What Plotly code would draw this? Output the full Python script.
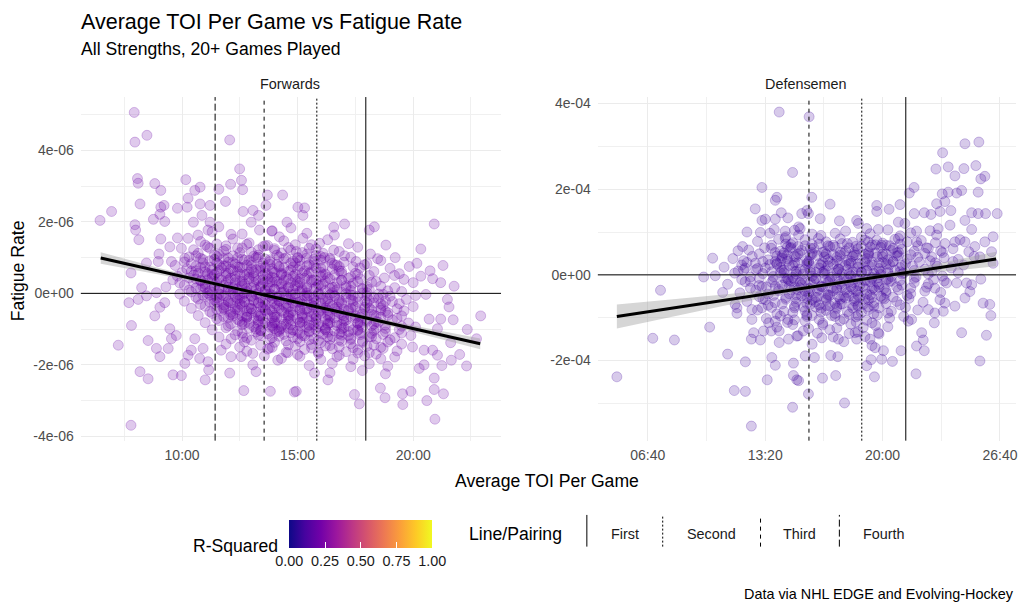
import plotly.graph_objects as go
from plotly.colors import sample_colorscale, unlabel_rgb

# ---------------- data (TOI in minutes, fatigue rate) ----------------
# Forwards: (avg TOI minutes, fatigue rate x 1e-6)
fwd_points = [
    (7.93,5.06),(8.48,4.42),(7.96,4.23),(12.06,4.29),(12.49,3.48),(8.07,3.21),(8.10,3.08),(10.16,3.18),(8.82,3.07),(9.08,2.88),
    (10.78,2.97),(10.55,2.88),(11.59,2.91),(12.10,3.05),(12.57,3.16),(12.62,2.90),(13.69,2.75),(14.35,2.75),(8.18,2.50),(10.26,2.66),
    (10.22,2.41),(9.80,2.38),(9.08,2.41),(9.22,2.46),(10.78,2.50),(11.21,2.46),(11.88,2.57),(13.63,2.46),(12.64,2.29),(13.07,2.32),
    (6.45,2.04),(6.95,2.29),(7.96,1.92),(7.99,1.77),(8.13,1.50),(8.76,2.07),(9.04,2.21),(9.25,2.01),(9.08,1.52),(10.49,1.99),
    (10.86,2.18),(11.21,1.99),(11.12,1.77),(11.59,1.86),(12.12,1.65),(12.99,1.99),(13.31,2.18),(13.35,1.77),(13.88,1.74),(14.21,1.58),
    (14.54,1.99),(14.71,1.83),(9.00,1.10),(8.97,0.89),(8.46,0.85),(9.80,1.55),(9.97,1.26),(9.47,1.30),(10.26,1.54),(10.69,1.63),
    (10.12,0.98),(9.54,0.89),
    (15.01,2.41),(15.30,2.39),(15.23,2.18),(16.56,1.85),(17.03,1.94),(16.59,1.63),(16.56,1.21),(15.95,1.40),(15.23,1.54),(18.10,1.77),
    (18.32,1.86),(18.82,1.35),(18.15,1.10),(18.46,0.97),(19.22,1.00),(20.33,1.24),(20.91,1.94),(21.29,0.78),(19.83,0.75),(20.16,0.84),
    (20.73,0.63),(17.03,1.05),(17.53,0.89),(17.89,0.80),(16.59,0.80),(16.16,1.00),(15.73,0.89),(14.94,1.17),(15.37,0.98),
    (7.79,0.57),(7.70,-0.26),(8.10,-0.17),(8.25,0.16),(8.46,-0.07),(8.89,0.02),(9.25,-0.26),(9.04,-0.39),(8.82,-0.63),(7.81,-0.90),
    (7.24,-1.45),(8.53,-1.32),(8.89,-1.54),(9.04,-1.77),(9.40,-1.54),(9.54,-1.27),(9.75,-1.18),(9.47,-0.99),(8.18,-2.19),(8.53,-2.39),
    (9.61,-2.28),(9.97,-2.30),(7.79,-3.69),(10.12,-1.96),(10.26,-1.73),(10.55,-1.27),(10.91,-1.54),(10.76,-1.82),(11.12,-1.91),(11.15,-2.14),
    (11.00,-2.42),(10.40,-1.59),(11.69,-1.59),(12.12,-1.77),(12.56,-1.77),(12.06,-2.23),(12.67,-2.72),(13.06,-2.00),(13.20,-2.19),(13.56,-1.75),
    (13.82,-2.74),(13.78,-1.53),(14.14,-1.87),(14.57,-1.66),(14.86,-2.76),(12.12,-1.27),(12.49,-1.50),(12.63,-1.22),(13.06,-1.68),(13.42,-1.18),
    (13.92,-0.95),(14.28,-0.99),
    (21.77,0.20),(22.92,-0.63),(22.34,-1.01),(22.74,-1.27),(21.55,-0.38),(21.73,-0.74),(21.19,-0.72),(21.05,-0.99),(21.62,-1.38),(22.01,-1.71),
    (22.31,-2.03),(21.65,-1.87),(21.24,-2.02),(21.31,-2.81),(20.94,-3.52),(20.59,-3.00),(20.91,-2.69),(20.91,-2.37),(21.05,-1.73),(20.84,-1.59),
    (20.47,-1.59),(20.26,-2.10),(19.90,-2.74),(19.55,-3.11),(19.54,-2.81),(18.78,-2.92),(18.58,-2.65),(17.67,-3.09),(17.46,-2.83),(16.31,-2.42),
    (15.73,-2.23),(14.94,-2.74),(20.55,-0.03),(21.19,0.30),(20.33,0.48),(19.19,0.50),(18.75,0.43),(20.84,0.41),(21.48,-0.17),(20.69,-0.72),
    (19.97,-1.50),(20.47,-2.00),
]

fwd_points_core = [
    (10.8,1.45),(11.5,1.38),(12.2,1.52),(12.9,1.41),(13.6,1.33),(14.4,1.47),(15.6,1.36),(16.3,1.50),(17.2,1.39),
    (10.5,1.22),(11.1,1.30),(11.8,1.18),(12.4,1.27),(13.0,1.15),(13.5,1.31),(14.0,1.20),(14.6,1.28),(15.2,1.14),(15.8,1.24),(16.8,1.17),(17.6,1.29),
    (10.3,1.02),(10.9,0.95),(11.4,1.08),(11.8,0.97),(12.2,1.05),(12.7,0.93),(13.1,1.04),(13.6,0.96),(14.1,1.07),(14.5,0.99),(15.1,0.92),(15.8,1.06),(16.4,0.94),(17.3,1.01),(18.6,0.92),
    (9.7,0.78),(10.4,0.83),(11.0,0.74),(11.5,0.85),(11.9,0.77),(12.3,0.82),(12.6,0.72),(13.0,0.86),(13.4,0.75),(13.8,0.81),(14.2,0.73),(14.7,0.84),(15.1,0.76),(15.5,0.80),(16.0,0.71),(16.7,0.79),(17.4,0.74),(18.0,0.83),(19.0,0.70),
    (10.0,0.58),(10.6,0.63),(11.1,0.55),(11.6,0.64),(12.0,0.57),(12.4,0.61),(12.8,0.53),(13.2,0.66),(13.6,0.56),(13.9,0.62),(14.3,0.54),(14.7,0.65),(15.2,0.57),(15.6,0.60),(16.1,0.52),(16.8,0.63),(17.5,0.56),(18.3,0.61),(19.4,0.55),
    (9.6,0.38),(10.3,0.43),(10.8,0.35),(11.3,0.44),(11.7,0.37),(12.1,0.42),(12.5,0.33),(12.9,0.45),(13.3,0.36),(13.7,0.41),(14.1,0.34),(14.5,0.46),(14.9,0.38),(15.3,0.42),(15.8,0.35),(16.3,0.44),(16.9,0.37),(17.7,0.41),(18.4,0.33),(19.6,0.39),(20.0,0.30),
    (9.3,0.18),(10.1,0.23),(10.6,0.15),(11.0,0.24),(11.4,0.17),(11.8,0.22),(12.2,0.13),(12.6,0.25),(13.0,0.16),(13.4,0.21),(13.8,0.14),(14.2,0.26),(14.6,0.18),(15.0,0.22),(15.4,0.15),(15.9,0.24),(16.5,0.17),(17.1,0.21),(17.8,0.13),(18.6,0.20),(19.2,0.16),
    (9.9,-0.02),(10.4,0.04),(10.9,-0.05),(11.3,0.03),(11.7,-0.04),(12.1,0.05),(12.5,-0.06),(12.8,0.02),(13.2,-0.03),(13.6,0.06),(13.9,-0.05),(14.3,0.03),(14.7,-0.02),(15.1,0.05),(15.5,-0.06),(15.9,0.01),(16.4,-0.04),(16.9,0.04),(17.4,-0.05),(18.0,0.02),(18.7,-0.03),(19.5,0.05),(20.1,-0.06),
    (10.1,-0.22),(10.7,-0.16),(11.2,-0.25),(11.6,-0.17),(12.0,-0.24),(12.4,-0.15),(12.7,-0.23),(13.1,-0.18),(13.5,-0.26),(13.9,-0.14),(14.2,-0.21),(14.6,-0.17),(15.0,-0.25),(15.4,-0.16),(15.8,-0.22),(16.3,-0.15),(16.8,-0.24),(17.3,-0.18),(17.9,-0.21),(18.5,-0.14),(19.1,-0.23),(19.7,-0.17),
    (10.4,-0.42),(11.0,-0.36),(11.5,-0.45),(11.9,-0.37),(12.3,-0.44),(12.6,-0.35),(13.0,-0.43),(13.4,-0.38),(13.8,-0.46),(14.1,-0.34),(14.5,-0.41),(14.9,-0.37),(15.3,-0.45),(15.7,-0.36),(16.1,-0.42),(16.5,-0.35),(17.0,-0.44),(17.5,-0.38),(18.1,-0.41),(18.7,-0.34),(19.3,-0.43),(20.0,-0.37),
    (10.7,-0.62),(11.3,-0.56),(11.8,-0.65),(12.2,-0.57),(12.6,-0.64),(13.0,-0.55),(13.3,-0.63),(13.7,-0.58),(14.1,-0.66),(14.4,-0.54),(14.8,-0.61),(15.2,-0.57),(15.6,-0.65),(16.0,-0.56),(16.4,-0.62),(16.8,-0.55),(17.3,-0.64),(17.8,-0.58),(18.3,-0.61),(18.9,-0.54),(19.5,-0.63),
    (11.0,-0.82),(11.6,-0.76),(12.1,-0.85),(12.5,-0.77),(12.9,-0.84),(13.3,-0.75),(13.6,-0.83),(14.0,-0.78),(14.4,-0.86),(14.7,-0.74),(15.1,-0.81),(15.5,-0.77),(15.9,-0.85),(16.3,-0.76),(16.7,-0.82),(17.1,-0.75),(17.6,-0.84),(18.0,-0.78),(18.5,-0.81),(19.1,-0.74),(19.8,-0.83),
    (11.3,-1.02),(11.9,-0.96),(12.4,-1.05),(12.9,-0.97),(13.4,-1.04),(13.8,-0.95),(14.2,-1.03),(14.6,-0.98),(15.0,-1.06),(15.4,-0.94),(15.8,-1.01),(16.2,-0.97),(16.6,-1.05),(17.0,-0.96),(17.4,-1.02),(17.8,-0.95),(18.3,-1.04),(18.8,-0.98),(19.4,-1.01),(20.1,-0.94),
    (11.6,-1.22),(12.3,-1.16),(12.8,-1.25),(13.3,-1.17),(13.9,-1.24),(14.4,-1.15),(14.8,-1.23),(15.2,-1.18),(15.7,-1.26),(16.1,-1.14),(16.5,-1.21),(16.9,-1.17),(17.3,-1.25),(17.7,-1.16),(18.2,-1.22),(18.7,-1.15),(19.2,-1.24),(19.9,-1.18),
    (11.9,-1.42),(12.7,-1.36),(13.4,-1.45),(14.0,-1.37),(14.6,-1.44),(15.1,-1.35),(15.6,-1.43),(16.0,-1.38),(16.4,-1.46),(16.9,-1.34),(17.3,-1.41),(17.8,-1.37),(18.3,-1.45),(18.9,-1.36),(19.5,-1.42),
    (12.8,-1.62),(13.7,-1.56),(14.5,-1.65),(15.3,-1.57),(15.9,-1.64),(16.5,-1.55),(17.1,-1.63),(17.6,-1.58),(18.1,-1.66),(18.7,-1.54),(19.3,-1.61),
    (14.3,-1.82),(15.1,-1.76),(16.0,-1.85),(16.7,-1.77),(17.4,-1.84),(17.9,-1.75),(18.6,-1.83),(19.2,-1.78),
    (15.5,-2.02),(16.5,-1.96),(17.3,-2.05),(18.1,-1.97),(18.9,-2.04),
    (16.4,-2.22),(17.8,-2.16),(18.8,-2.25),
]

fwd_points_dense = [
    (11.3,1.72),(12.6,1.66),(13.9,1.75),(15.4,1.68),
    (10.7,1.12),(11.6,1.09),(12.5,1.14),(13.3,1.07),(14.3,1.13),(15.4,1.10),(16.1,1.12),
    (10.1,0.88),(11.2,0.91),(12.0,0.87),(12.9,0.92),(13.8,0.89),(14.8,0.90),(16.0,0.93),(17.0,0.87),
    (10.2,0.69),(10.8,0.72),(11.3,0.66),(11.7,0.71),(12.1,0.68),(12.5,0.73),(13.0,0.67),(13.4,0.70),(13.9,0.69),(14.4,0.72),(15.0,0.66),(15.8,0.70),(16.5,0.68),(17.7,0.71),
    (9.8,0.48),(10.5,0.51),(11.0,0.46),(11.4,0.52),(11.9,0.49),(12.3,0.47),(12.7,0.52),(13.1,0.48),(13.5,0.50),(13.9,0.45),(14.3,0.51),(14.8,0.48),(15.4,0.49),(16.0,0.47),(16.6,0.51),(17.3,0.46),(18.1,0.50),
    (9.9,0.29),(10.5,0.31),(11.0,0.27),(11.5,0.32),(11.9,0.28),(12.3,0.30),(12.7,0.26),(13.1,0.31),(13.5,0.28),(13.9,0.32),(14.3,0.27),(14.7,0.30),(15.1,0.29),(15.6,0.31),(16.1,0.26),(16.7,0.30),(17.4,0.28),(18.2,0.31),
    (10.3,0.09),(10.8,0.12),(11.2,0.07),(11.6,0.11),(12.0,0.08),(12.4,0.12),(12.8,0.06),(13.2,0.10),(13.6,0.09),(14.0,0.12),(14.4,0.07),(14.8,0.10),(15.2,0.08),(15.7,0.11),(16.2,0.07),(16.7,0.10),(17.3,0.08),(18.1,0.11),(18.9,0.07),
    (10.6,-0.11),(11.1,-0.08),(11.5,-0.12),(11.9,-0.07),(12.3,-0.10),(12.6,-0.13),(13.0,-0.09),(13.4,-0.12),(13.8,-0.08),(14.1,-0.11),(14.5,-0.09),(14.9,-0.12),(15.3,-0.07),(15.7,-0.10),(16.1,-0.13),(16.6,-0.08),(17.1,-0.11),(17.6,-0.09),(18.3,-0.12),(19.0,-0.08),
    (10.8,-0.31),(11.4,-0.28),(11.8,-0.33),(12.2,-0.27),(12.5,-0.30),(12.9,-0.32),(13.3,-0.28),(13.6,-0.31),(14.0,-0.29),(14.4,-0.33),(14.8,-0.27),(15.2,-0.30),(15.6,-0.32),(16.0,-0.28),(16.4,-0.31),(16.9,-0.29),(17.4,-0.33),(18.0,-0.27),(18.6,-0.30),(19.4,-0.29),
    (11.2,-0.51),(11.7,-0.48),(12.1,-0.53),(12.5,-0.47),(12.8,-0.50),(13.2,-0.52),(13.6,-0.48),(13.9,-0.51),(14.3,-0.49),(14.7,-0.53),(15.1,-0.47),(15.5,-0.50),(15.9,-0.52),(16.3,-0.48),(16.7,-0.51),(17.2,-0.49),(17.7,-0.53),(18.2,-0.47),(18.8,-0.50),(19.6,-0.49),
    (11.5,-0.71),(12.0,-0.68),(12.4,-0.73),(12.8,-0.67),(13.1,-0.70),(13.5,-0.72),(13.9,-0.68),(14.3,-0.71),(14.6,-0.69),(15.0,-0.73),(15.4,-0.67),(15.8,-0.70),(16.2,-0.72),(16.6,-0.68),(17.0,-0.71),(17.5,-0.69),(18.0,-0.73),(18.6,-0.67),(19.3,-0.70),
    (12.0,-0.91),(12.6,-0.88),(13.1,-0.93),(13.5,-0.87),(13.9,-0.90),(14.3,-0.92),(14.7,-0.88),(15.1,-0.91),(15.5,-0.89),(15.9,-0.93),(16.3,-0.87),(16.7,-0.90),(17.2,-0.92),(17.7,-0.88),(18.2,-0.91),(18.8,-0.89),(19.5,-0.92),
    (12.6,-1.11),(13.2,-1.08),(13.7,-1.13),(14.2,-1.07),(14.7,-1.10),(15.1,-1.12),(15.5,-1.08),(15.9,-1.11),(16.3,-1.09),(16.8,-1.13),(17.2,-1.07),(17.7,-1.10),(18.2,-1.12),(18.8,-1.08),(19.5,-1.11),
    (13.0,-1.31),(13.8,-1.28),(14.5,-1.33),(15.0,-1.27),(15.5,-1.30),(15.9,-1.32),(16.4,-1.28),(16.8,-1.31),(17.3,-1.29),(17.8,-1.33),(18.4,-1.27),(19.0,-1.30),
    (13.9,-1.51),(14.9,-1.48),(15.6,-1.53),(16.2,-1.47),(16.8,-1.50),(17.4,-1.52),(18.0,-1.48),(18.6,-1.51),
    (15.0,-1.71),(15.9,-1.68),(16.8,-1.73),(17.6,-1.67),(18.4,-1.70),
]

fwd_points_darkest = [
    (11.0,1.35),(11.9,1.33),(12.8,1.37),(13.7,1.34),(14.9,1.36),
    (10.6,1.05),(11.5,1.03),(12.4,0.99),(13.3,1.01),(14.2,1.02),(15.0,1.00),(16.0,1.03),
    (10.9,0.85),(11.6,0.80),(12.2,0.86),(12.8,0.79),(13.5,0.84),(14.1,0.81),(14.9,0.85),(15.7,0.78),(16.5,0.84),
    (10.4,0.62),(11.0,0.60),(11.5,0.58),(12.2,0.63),(12.9,0.59),(13.4,0.64),(14.0,0.58),(14.6,0.61),(15.3,0.63),(16.0,0.59),(16.9,0.62),
    (10.6,0.40),(11.1,0.38),(11.6,0.42),(12.3,0.39),(12.9,0.41),(13.5,0.38),(14.0,0.42),(14.6,0.39),(15.1,0.41),(15.7,0.38),(16.4,0.40),(17.2,0.42),
    (10.9,0.19),(11.4,0.22),(12.0,0.18),(12.6,0.21),(13.1,0.19),(13.7,0.22),(14.3,0.18),(14.9,0.21),(15.4,0.19),(16.0,0.22),(16.6,0.18),(17.3,0.20),(18.0,0.19),
    (11.1,0.01),(11.6,-0.02),(12.2,0.02),(12.7,-0.01),(13.3,0.01),(13.8,-0.02),(14.4,0.02),(14.9,-0.01),(15.4,0.01),(15.9,-0.02),(16.5,0.02),(17.1,-0.01),(17.8,0.01),(18.5,-0.02),
    (11.4,-0.19),(12.0,-0.22),(12.5,-0.18),(13.1,-0.21),(13.6,-0.19),(14.2,-0.22),(14.7,-0.18),(15.2,-0.21),(15.7,-0.19),(16.2,-0.22),(16.8,-0.18),(17.4,-0.21),(18.1,-0.19),(18.8,-0.22),
    (11.8,-0.40),(12.4,-0.38),(12.9,-0.42),(13.5,-0.39),(14.0,-0.41),(14.6,-0.38),(15.1,-0.42),(15.6,-0.39),(16.2,-0.41),(16.7,-0.38),(17.3,-0.42),(17.9,-0.39),(18.6,-0.41),
    (12.1,-0.60),(12.8,-0.62),(13.4,-0.58),(14.0,-0.61),(14.6,-0.59),(15.2,-0.62),(15.7,-0.58),(16.3,-0.61),(16.9,-0.59),(17.5,-0.62),(18.2,-0.58),(18.9,-0.61),
    (12.6,-0.80),(13.3,-0.79),(14.0,-0.82),(14.6,-0.78),(15.2,-0.81),(15.8,-0.79),(16.4,-0.82),(17.0,-0.78),(17.7,-0.81),(18.4,-0.79),
    (13.2,-1.00),(14.0,-0.99),(14.8,-1.02),(15.5,-0.98),(16.2,-1.01),(16.9,-0.99),(17.6,-1.02),(18.4,-0.98),
    (14.2,-1.20),(15.3,-1.19),(16.3,-1.22),(17.2,-1.18),(18.1,-1.21),
]

fwd_points_peak = [
    (11.2,1.26),(11.9,1.23),(12.6,1.27),(13.3,1.22),(14.0,1.25),(14.7,1.21),(15.5,1.26),
    (10.8,0.98),(11.4,0.95),(12.0,0.99),(12.6,0.96),(13.2,1.00),(13.8,0.94),(14.4,0.97),(15.0,0.99),(15.7,0.95),(16.4,0.98),
    (10.6,0.76),(11.2,0.73),(11.8,0.77),(12.4,0.74),(13.0,0.78),(13.6,0.72),(14.2,0.76),(14.8,0.74),(15.4,0.77),(16.1,0.73),(16.8,0.75),
    (10.7,0.56),(11.3,0.53),(11.9,0.57),(12.5,0.54),(13.1,0.58),(13.7,0.52),(14.3,0.56),(14.9,0.53),(15.5,0.57),(16.2,0.54),(16.9,0.56),(17.6,0.53),
    (10.8,0.36),(11.4,0.33),(12.0,0.37),(12.6,0.34),(13.2,0.38),(13.8,0.32),(14.4,0.36),(15.0,0.33),(15.6,0.37),(16.2,0.34),(16.9,0.36),(17.6,0.33),
    (11.0,0.16),(11.6,0.13),(12.2,0.17),(12.8,0.14),(13.4,0.18),(14.0,0.12),(14.6,0.16),(15.2,0.13),(15.8,0.17),(16.4,0.14),(17.1,0.16),(17.8,0.13),
    (11.2,-0.04),(11.8,-0.07),(12.4,-0.03),(13.0,-0.06),(13.6,-0.02),(14.2,-0.08),(14.8,-0.04),(15.4,-0.07),(16.0,-0.03),(16.6,-0.06),(17.3,-0.04),(18.0,-0.07),
    (11.5,-0.24),(12.1,-0.27),(12.7,-0.23),(13.3,-0.26),(13.9,-0.22),(14.5,-0.28),(15.1,-0.24),(15.7,-0.27),(16.3,-0.23),(16.9,-0.26),(17.6,-0.24),(18.3,-0.27),
    (11.8,-0.44),(12.4,-0.47),(13.0,-0.43),(13.6,-0.46),(14.2,-0.42),(14.8,-0.48),(15.4,-0.44),(16.0,-0.47),(16.6,-0.43),(17.2,-0.46),(17.9,-0.44),(18.6,-0.47),
    (12.2,-0.64),(12.8,-0.67),(13.4,-0.63),(14.0,-0.66),(14.6,-0.62),(15.2,-0.68),(15.8,-0.64),(16.4,-0.67),(17.0,-0.63),(17.7,-0.66),(18.4,-0.64),
    (12.7,-0.84),(13.3,-0.87),(13.9,-0.83),(14.5,-0.86),(15.1,-0.82),(15.7,-0.88),(16.3,-0.84),(16.9,-0.87),(17.6,-0.83),(18.3,-0.86),
    (13.4,-1.04),(14.1,-1.07),(14.8,-1.03),(15.5,-1.06),(16.2,-1.02),(16.9,-1.08),(17.6,-1.04),
]

# Defensemen: (avg TOI minutes, fatigue rate x 1e-4)
def_points = [
    (14.13,3.80),(14.89,2.39),(13.15,2.04),(14.00,1.81),(13.91,1.74),(12.77,1.54),(13.15,1.27),(13.34,1.30),(13.91,1.30),(14.25,1.45),
    (14.62,1.33),(15.41,1.43),(12.30,1.00),(13.06,0.99),(13.85,1.06),(14.47,1.02),(15.23,1.12),(15.23,0.93),(12.05,0.66),(11.79,0.56),
    (10.35,0.39),(12.11,0.33),(12.77,0.27),(13.68,0.62),(14.47,0.85),(14.76,0.62),(12.21,0.16),(13.34,0.16),(14.28,0.39),(13.91,0.31),
    (15.83,3.69),(15.98,1.81),(15.70,1.50),(15.79,1.43),(17.02,1.65),(16.46,1.31),(17.55,1.26),(15.32,1.08),(17.31,0.97),(16.36,0.85),
    (18.53,1.27),(19.67,1.62),(19.67,1.48),(20.37,1.53),(20.99,1.64),(18.63,1.20),(19.10,1.08),(19.76,1.06),(20.90,1.23),(21.52,1.91),
    (21.79,2.04),(21.80,1.43),(22.37,1.45),(22.75,1.41),(21.93,1.02),(21.27,1.20),(23.41,2.85),(23.03,2.47),(23.73,2.52),(24.11,2.31),
    (24.68,3.06),(25.47,3.10),(24.62,2.48),(25.30,2.55),(25.81,2.30),(25.58,2.24),(23.39,1.89),(23.73,1.93),(24.21,1.91),(24.49,1.97),
    (25.43,1.93),(23.54,1.71),(23.07,1.66),(23.26,1.48),(23.88,1.50),(25.06,1.45),(25.43,1.43),(25.85,1.43),(26.51,1.43),(24.68,1.27),
    (25.06,1.06),(23.83,1.16),(23.16,1.08),(23.07,0.93),(23.54,0.73),(24.11,0.77),(24.68,0.77),(25.24,0.66),(25.81,0.77),(26.28,0.89),
    (26.19,0.54),(25.53,0.42),(26.28,0.27),(21.93,0.77),(22.60,0.62),(22.79,0.42),(20.90,0.85),(19.95,0.69),(19.19,0.77),(19.67,0.81),
    (9.84,-0.05),(7.39,-0.36),(4.91,-2.38),(6.95,-1.48),(8.18,-1.52),(10.18,-1.22),(10.92,-0.41),(11.20,-1.85),(12.21,-2.03),(11.58,-2.70),
    (12.21,-2.72),(12.55,-3.53),(13.45,-2.45),(13.71,-1.93),(13.91,-2.11),(14.89,-3.09),(14.94,-2.06),(14.94,-2.35),(15.13,-2.45),(11.73,-0.90),
    (12.58,-1.04),(12.68,-1.35),(12.55,-1.50),(13.06,-1.52),(13.24,-1.31),(13.68,-1.31),(14.13,-1.58),(14.66,-1.50),(14.13,-1.31),(13.53,-1.12),
    (13.91,-1.08),(14.62,-1.04),(15.13,-1.43),(11.63,-0.69),(11.73,-0.77),(12.58,-0.81),(13.15,-0.77),(12.49,-0.15),(12.11,0.12),(13.15,-0.27),
    (13.34,-0.58),(13.91,-0.27),(14.66,-0.12),
    (25.58,-0.10),(25.71,-0.66),(26.09,-0.69),(26.15,-0.95),(24.49,-1.35),(25.90,-1.41),(25.53,-2.01),(24.96,-0.39),(24.68,-0.54),(25.06,-0.23),
    (24.21,-0.19),(23.64,-0.19),(24.77,-0.19),(23.26,-0.58),(23.54,-0.66),(24.11,-0.73),(22.97,-0.89),(23.45,-0.85),(22.94,-1.12),(22.97,-0.31),
    (22.60,-0.81),(22.22,-1.35),(22.31,-1.52),(22.37,-1.77),(21.93,-1.66),(21.90,-2.31),(21.65,-1.04),(21.46,-1.08),(21.05,-1.77),(20.56,-2.02),
    (20.05,-1.77),(19.95,-1.97),(19.54,-2.38),(19.35,-1.98),(19.10,-2.12),(19.58,-1.70),(19.29,-1.50),(19.76,-1.35),(18.53,-1.50),(18.44,-1.35),
    (17.49,-1.50),(16.55,-1.47),(17.46,-1.91),(17.06,-1.88),(16.13,-1.93),(15.61,-1.89),(17.34,-2.35),(16.59,-2.41),(15.79,-2.78),(17.84,-2.99),
    (15.23,-2.47),
]

def_points_core = [
    (13.6,0.97),(15.0,1.04),(16.0,0.95),(17.9,1.02),(19.3,0.96),(20.3,1.05),(21.6,0.98),(22.7,1.03),
    (12.9,0.78),(14.1,0.83),(14.9,0.75),(15.6,0.82),(16.8,0.77),(17.6,0.84),(18.3,0.76),(19.0,0.81),(20.0,0.74),(20.7,0.83),(21.4,0.77),(22.2,0.80),(23.0,0.75),(24.4,0.82),
    (12.4,0.58),(13.3,0.63),(14.2,0.55),(14.8,0.64),(15.4,0.57),(16.1,0.62),(16.7,0.54),(17.3,0.65),(17.9,0.56),(18.6,0.61),(19.2,0.53),(19.9,0.64),(20.5,0.57),(21.1,0.60),(21.8,0.55),(22.5,0.63),(23.3,0.56),(24.0,0.61),(24.9,0.54),
    (11.5,0.38),(12.6,0.43),(13.5,0.35),(14.0,0.44),(14.6,0.37),(15.1,0.42),(15.7,0.33),(16.3,0.45),(16.9,0.36),(17.4,0.41),(18.0,0.34),(18.5,0.46),(19.1,0.38),(19.7,0.42),(20.3,0.35),(20.8,0.44),(21.4,0.37),(22.0,0.41),(22.7,0.33),(23.5,0.40),(24.3,0.36),(25.2,0.43),
    (11.0,0.18),(12.0,0.23),(12.9,0.15),(13.6,0.24),(14.2,0.17),(14.7,0.22),(15.3,0.13),(15.8,0.25),(16.4,0.16),(16.9,0.21),(17.5,0.14),(18.1,0.26),(18.6,0.18),(19.2,0.22),(19.8,0.15),(20.4,0.24),(21.0,0.17),(21.7,0.21),(22.4,0.13),(23.1,0.20),(23.9,0.16),(24.6,0.23),
    (10.5,-0.02),(11.6,0.04),(12.5,-0.05),(13.2,0.03),(13.8,-0.04),(14.4,0.05),(14.9,-0.06),(15.5,0.02),(16.0,-0.03),(16.6,0.06),(17.1,-0.05),(17.7,0.03),(18.2,-0.02),(18.8,0.05),(19.4,-0.06),(19.9,0.01),(20.5,-0.04),(21.2,0.04),(21.9,-0.05),(22.6,0.02),(23.4,-0.03),(24.3,0.05),
    (11.2,-0.22),(12.2,-0.16),(13.0,-0.25),(13.7,-0.17),(14.3,-0.24),(14.8,-0.15),(15.4,-0.23),(15.9,-0.18),(16.5,-0.26),(17.0,-0.14),(17.6,-0.21),(18.1,-0.17),(18.7,-0.25),(19.3,-0.16),(19.8,-0.22),(20.4,-0.15),(21.1,-0.24),(21.8,-0.18),(22.6,-0.21),(23.5,-0.14),
    (11.9,-0.42),(12.8,-0.36),(13.5,-0.45),(14.1,-0.37),(14.7,-0.44),(15.2,-0.35),(15.8,-0.43),(16.3,-0.38),(16.9,-0.46),(17.4,-0.34),(18.0,-0.41),(18.5,-0.37),(19.1,-0.45),(19.6,-0.36),(20.2,-0.42),(20.9,-0.35),(21.6,-0.44),(22.4,-0.38),(23.3,-0.41),
    (12.3,-0.62),(13.2,-0.56),(13.9,-0.65),(14.5,-0.57),(15.1,-0.64),(15.7,-0.55),(16.2,-0.63),(16.8,-0.58),(17.3,-0.66),(17.9,-0.54),(18.4,-0.61),(19.0,-0.57),(19.5,-0.65),(20.1,-0.56),(20.8,-0.62),(21.5,-0.55),(22.3,-0.64),
    (12.9,-0.82),(13.7,-0.76),(14.4,-0.85),(15.0,-0.77),(15.6,-0.84),(16.2,-0.75),(16.8,-0.83),(17.4,-0.78),(18.0,-0.86),(18.6,-0.74),(19.2,-0.81),(19.8,-0.77),(20.5,-0.85),(21.3,-0.76),(22.0,-0.82),
    (13.4,-1.02),(14.2,-0.96),(15.0,-1.05),(15.7,-0.97),(16.4,-1.04),(17.1,-0.95),(17.8,-1.03),(18.5,-0.98),(19.1,-1.06),(19.7,-0.94),(20.4,-1.01),(21.2,-0.97),
    (14.0,-1.22),(14.9,-1.16),(15.8,-1.25),(16.6,-1.17),(17.4,-1.24),(18.2,-1.15),(18.9,-1.23),(19.6,-1.18),(20.3,-1.21),
    (15.2,-1.42),(16.3,-1.36),(17.2,-1.45),(18.1,-1.37),(19.0,-1.44),(19.8,-1.38),
    (16.0,-1.62),(17.8,-1.56),(19.4,-1.65),
]

def_points_dense = [
    (14.5,0.89),(16.5,0.92),(18.8,0.88),(21.0,0.91),
    (13.7,0.69),(14.5,0.72),(15.2,0.66),(16.0,0.71),(16.9,0.68),(17.7,0.73),(18.5,0.67),(19.4,0.70),(20.2,0.69),(21.0,0.72),(22.0,0.68),
    (13.0,0.49),(13.9,0.52),(14.6,0.47),(15.3,0.51),(16.0,0.48),(16.6,0.53),(17.2,0.47),(17.8,0.50),(18.4,0.52),(19.0,0.48),(19.6,0.51),(20.2,0.49),(20.9,0.53),(21.6,0.47),(22.4,0.50),(23.4,0.52),
    (12.3,0.29),(13.2,0.31),(14.0,0.27),(14.6,0.32),(15.2,0.28),(15.8,0.30),(16.4,0.26),(17.0,0.31),(17.6,0.28),(18.2,0.32),(18.8,0.27),(19.4,0.30),(20.0,0.29),(20.6,0.31),(21.3,0.26),(22.1,0.30),(23.0,0.28),(24.0,0.31),
    (11.8,0.09),(12.8,0.12),(13.7,0.07),(14.4,0.11),(15.0,0.08),(15.6,0.12),(16.2,0.06),(16.8,0.10),(17.4,0.09),(18.0,0.12),(18.5,0.07),(19.1,0.10),(19.7,0.08),(20.3,0.11),(21.0,0.07),(21.8,0.10),(22.8,0.08),
    (12.0,-0.11),(13.0,-0.08),(13.8,-0.12),(14.4,-0.07),(15.0,-0.10),(15.6,-0.13),(16.2,-0.09),(16.8,-0.12),(17.4,-0.08),(18.0,-0.11),(18.5,-0.09),(19.1,-0.12),(19.7,-0.07),(20.3,-0.10),(21.0,-0.13),(21.8,-0.08),(22.9,-0.11),
    (12.5,-0.31),(13.4,-0.28),(14.1,-0.33),(14.7,-0.27),(15.3,-0.30),(15.9,-0.32),(16.5,-0.28),(17.1,-0.31),(17.7,-0.29),(18.3,-0.33),(18.9,-0.27),(19.5,-0.30),(20.1,-0.32),(20.8,-0.28),(21.6,-0.31),(22.5,-0.29),
    (13.0,-0.51),(13.8,-0.48),(14.5,-0.53),(15.1,-0.47),(15.7,-0.50),(16.3,-0.52),(16.9,-0.48),(17.5,-0.51),(18.1,-0.49),(18.7,-0.53),(19.3,-0.47),(19.9,-0.50),(20.6,-0.52),(21.4,-0.48),
    (13.5,-0.71),(14.3,-0.68),(15.0,-0.73),(15.7,-0.67),(16.4,-0.70),(17.0,-0.72),(17.6,-0.68),(18.3,-0.71),(18.9,-0.69),(19.5,-0.73),(20.2,-0.67),(21.0,-0.70),
    (14.0,-0.91),(14.9,-0.88),(15.7,-0.93),(16.5,-0.87),(17.3,-0.90),(18.1,-0.92),(18.8,-0.88),(19.5,-0.91),(20.3,-0.89),
    (14.6,-1.11),(15.6,-1.08),(16.6,-1.13),(17.6,-1.07),(18.5,-1.10),(19.4,-1.12),
    (15.5,-1.31),(17.0,-1.28),(18.6,-1.33),
]

def_points_darkest = [
    (14.6,0.65),(15.9,0.62),(17.0,0.66),(18.1,0.63),(19.3,0.65),(20.6,0.62),
    (14.3,0.45),(15.0,0.43),(15.9,0.46),(16.7,0.42),(17.6,0.45),(18.3,0.43),(19.2,0.46),(20.0,0.42),(20.9,0.45),
    (14.0,0.25),(14.9,0.22),(15.7,0.26),(16.5,0.23),(17.2,0.25),(17.9,0.22),(18.6,0.26),(19.4,0.23),(20.2,0.25),(21.1,0.22),
    (14.2,0.05),(15.1,0.02),(15.9,0.06),(16.7,0.03),(17.4,0.05),(18.1,0.02),(18.8,0.06),(19.5,0.03),(20.3,0.05),(21.1,0.02),
    (14.5,-0.15),(15.3,-0.18),(16.1,-0.14),(16.9,-0.17),(17.6,-0.15),(18.3,-0.18),(19.0,-0.14),(19.7,-0.17),(20.5,-0.15),
    (14.8,-0.35),(15.6,-0.38),(16.4,-0.34),(17.2,-0.37),(17.9,-0.35),(18.6,-0.38),(19.4,-0.34),(20.2,-0.37),
    (15.1,-0.55),(16.0,-0.58),(16.8,-0.54),(17.6,-0.57),(18.4,-0.55),(19.2,-0.58),(20.0,-0.54),
    (15.5,-0.75),(16.5,-0.78),(17.4,-0.74),(18.3,-0.77),(19.2,-0.75),
    (16.0,-0.95),(17.3,-0.97),(18.6,-0.94),
]

def_points_peak = [
    (14.8,0.71),(15.6,0.68),(16.4,0.72),(17.2,0.69),(18.0,0.73),(18.8,0.67),(19.6,0.70),(20.4,0.68),
    (14.4,0.51),(15.2,0.48),(16.0,0.52),(16.8,0.49),(17.6,0.53),(18.4,0.47),(19.2,0.50),(20.0,0.48),(20.8,0.51),
    (14.2,0.31),(15.0,0.28),(15.8,0.32),(16.6,0.29),(17.4,0.33),(18.2,0.27),(19.0,0.30),(19.8,0.28),(20.6,0.31),
    (14.3,0.11),(15.1,0.08),(15.9,0.12),(16.7,0.09),(17.5,0.13),(18.3,0.07),(19.1,0.10),(19.9,0.08),(20.7,0.11),
    (14.6,-0.09),(15.4,-0.12),(16.2,-0.08),(17.0,-0.11),(17.8,-0.07),(18.6,-0.13),(19.4,-0.09),(20.2,-0.12),
    (15.0,-0.29),(15.8,-0.32),(16.6,-0.28),(17.4,-0.31),(18.2,-0.27),(19.0,-0.33),(19.8,-0.29),
    (15.4,-0.49),(16.2,-0.52),(17.0,-0.48),(17.8,-0.51),(18.6,-0.47),(19.4,-0.53),
    (15.9,-0.69),(16.8,-0.72),(17.7,-0.68),(18.6,-0.71),
]

fwd_scale = 1e-6
def_scale = 1e-4

# regression fit + confidence band (minutes, scaled fatigue)
fwd_fit_x = [6.48, 9.0, 12.0, 14.5, 17.0, 20.0, 22.9]
fwd_fit_y = [0.99, 0.622, 0.183, -0.183, -0.548, -0.987, -1.41]
fwd_fit_hi = [1.15, 0.71, 0.23, -0.15, -0.50, -0.90, -1.26]
fwd_fit_lo = [0.83, 0.53, 0.14, -0.22, -0.59, -1.08, -1.56]

def_fit_x = [4.91, 8.0, 11.0, 14.0, 17.0, 20.0, 23.0, 26.45]
def_fit_y = [-0.97, -0.778, -0.591, -0.405, -0.218, -0.031, 0.155, 0.37]
def_fit_hi = [-0.69, -0.58, -0.46, -0.33, -0.17, 0.024, 0.255, 0.54]
def_fit_lo = [-1.25, -0.98, -0.72, -0.48, -0.27, -0.086, 0.055, 0.20]

# line / pairing TOI cutoffs (minutes)
line_names = ["First", "Second", "Third", "Fourth"]
line_dashes = ["solid", "2px,2px", "4px,4px", "7px,3px"]
fwd_cutoffs = [17.95, 15.83, 13.55, 11.43]
def_cutoffs = [21.32, 18.82, 15.82]

# R-squared used for point colour
fwd_r2 = 0.2
def_r2 = 0.1

# axes ticks
fwd_xticks = [10, 15, 20]
fwd_xlabels = ["10:00", "15:00", "20:00"]
fwd_xminor = [7.5, 12.5, 17.5, 22.5]
def_xticks = [400 / 60, 800 / 60, 1200 / 60, 1600 / 60]
def_xlabels = ["06:40", "13:20", "20:00", "26:40"]
def_xminor = [600 / 60, 1000 / 60, 1400 / 60]
fwd_yticks = [-4e-6, -2e-6, 0, 2e-6, 4e-6]
fwd_ylabels = ["-4e-06", "-2e-06", "0e+00", "2e-06", "4e-06"]
fwd_yminor = [-3e-6, -1e-6, 1e-6, 3e-6, 5e-6]
def_yticks = [-2e-4, 0, 2e-4, 4e-4]
def_ylabels = ["-2e-04", "0e+00", "2e-04", "4e-04"]
def_yminor = [-3e-4, -1e-4, 1e-4, 3e-4]
cbar_ticks = [0, 0.25, 0.5, 0.75, 1.0]
cbar_labels = ["0.00", "0.25", "0.50", "0.75", "1.00"]

# ---------------- figure ----------------
W, H = 1028, 613
FONT = "Liberation Sans, Arial, sans-serif"


def px(x):
    return x / W


def py(y):
    return 1 - y / H


def rgba(c, a):
    r, g, b = unlabel_rgb(c)
    return f"rgba({int(r)},{int(g)},{int(b)},{a})"


fwd_col = sample_colorscale("Plasma", [fwd_r2])[0]
def_col = sample_colorscale("Plasma", [def_r2])[0]

fig = go.Figure()

panels = [
    ("x", "y", fwd_points + fwd_points_core + fwd_points_dense + fwd_points_darkest + fwd_points_peak,
     fwd_scale, fwd_col, fwd_fit_x, fwd_fit_y, fwd_fit_hi, fwd_fit_lo),
    ("x2", "y2", def_points + def_points_core + def_points_dense + def_points_darkest + def_points_peak,
     def_scale, def_col, def_fit_x, def_fit_y, def_fit_hi, def_fit_lo),
]
for xa, ya, pts, sc, col, fx, fy, fhi, flo in panels:
    fig.add_trace(go.Scatter(
        x=[p[0] for p in pts], y=[p[1] * sc for p in pts], mode="markers",
        xaxis=xa, yaxis=ya, showlegend=False, hoverinfo="skip",
        marker=dict(size=10, color=rgba(col, 0.21), line=dict(width=1, color=rgba(col, 0.24))),
    ))
    fig.add_trace(go.Scatter(
        x=fx + fx[::-1], y=[v * sc for v in fhi] + [v * sc for v in flo[::-1]],
        fill="toself", fillcolor="rgba(153,153,153,0.4)", line=dict(width=0),
        mode="lines", xaxis=xa, yaxis=ya, showlegend=False, hoverinfo="skip",
    ))
    fig.add_trace(go.Scatter(
        x=fx, y=[v * sc for v in fy], mode="lines", line=dict(color="black", width=3),
        xaxis=xa, yaxis=ya, showlegend=False, hoverinfo="skip",
    ))

# colorbar carrier
fig.add_trace(go.Scatter(
    x=[None], y=[None], mode="markers", xaxis="x", yaxis="y", showlegend=False,
    marker=dict(color=[0], colorscale="Plasma", cmin=0, cmax=1, showscale=True,
                colorbar=dict(orientation="h", x=px(361.5), xanchor="center", y=py(523), yanchor="top",
                              lenmode="pixels", len=143, thickness=28, outlinewidth=0,
                              title=dict(text=""),
                              tickvals=cbar_ticks, ticktext=cbar_labels, ticks="inside", tickcolor="white",
                              ticklen=6, tickwidth=1, tickfont=dict(size=14.4, color="#1a1a1a", family=FONT),
                              ypad=0, xpad=0)),
))

shapes = []
for cut, dash in zip(fwd_cutoffs, line_dashes):
    shapes.append(dict(type="line", xref="x", yref="y domain", x0=cut, x1=cut, y0=0, y1=1,
                       line=dict(color="black", width=1, dash=dash)))
for cut, dash in zip(def_cutoffs, line_dashes):
    shapes.append(dict(type="line", xref="x2", yref="y2 domain", x0=cut, x1=cut, y0=0, y1=1,
                       line=dict(color="black", width=1, dash=dash)))
for xr, yr in [("x domain", "y"), ("x2 domain", "y2")]:
    shapes.append(dict(type="line", xref=xr, yref=yr, x0=0, x1=1, y0=0, y1=0,
                       line=dict(color="black", width=1)))

# legend glyphs for Line/Pairing
leg_line_x = [588, 664, 762, 841]
leg_text_x = [626, 713, 801, 886]
for lx, dash in zip(leg_line_x, line_dashes):
    shapes.append(dict(type="line", xref="paper", yref="paper", x0=px(lx), x1=px(lx), y0=py(550), y1=py(518),
                       line=dict(color="black", width=1, dash=dash)))

ann = []


def text(t, x, y, size, color="black", xanchor="left", angle=0):
    ann.append(dict(text=t, x=px(x), y=py(y), xref="paper", yref="paper", showarrow=False,
                    xanchor=xanchor, yanchor="middle", textangle=angle,
                    font=dict(size=size, color=color, family=FONT)))


text("Average TOI Per Game vs Fatigue Rate", 79, 20, 21.5)
text("All Strengths, 20+ Games Played", 79, 47, 17.6)
text("Forwards", 291, 83, 14.4, "#1a1a1a", "center")
text("Defensemen", 808, 83, 14.4, "#1a1a1a", "center")
text("Average TOI Per Game", 548, 484, 17.6, "black", "center")
text("Fatigue Rate", 18, 271, 17.6, "black", "center", -90)
text("R-Squared", 236, 549, 17.6, "black", "center")
text("Line/Pairing", 517, 537, 17.6, "black", "center")
for name, tx in zip(line_names, leg_text_x):
    text(name, tx, 537, 14.4, "#1a1a1a", "center")
text("Data via NHL EDGE and Evolving-Hockey", 1018, 598, 14.4, "black", "right")

axis_common = dict(showgrid=True, gridcolor="#ebebeb", gridwidth=1, zeroline=False, showline=False,
                   ticks="", tickfont=dict(size=14, color="#4d4d4d", family=FONT))
minor_common = dict(showgrid=True, gridcolor="#f0f0f0", gridwidth=0.8, ticks="")

fig.update_layout(
    width=W, height=H, margin=dict(l=0, r=0, t=0, b=0),
    paper_bgcolor="white", plot_bgcolor="white", showlegend=False,
    font=dict(family=FONT),
    xaxis=dict(domain=[px(81), px(502)], range=[5.62, 23.8], anchor="y", ticklabelstandoff=4,
               tickvals=fwd_xticks, ticktext=fwd_xlabels, minor=dict(tickvals=fwd_xminor, **minor_common), **axis_common),
    yaxis=dict(domain=[py(443), py(96)], range=[-4.12e-6, 5.49e-6], anchor="x", ticklabelstandoff=6,
               tickvals=fwd_yticks, ticktext=fwd_ylabels, minor=dict(tickvals=fwd_yminor, **minor_common), **axis_common),
    xaxis2=dict(domain=[px(599), px(1018)], range=[3.83, 27.58], anchor="y2", ticklabelstandoff=4,
                tickvals=def_xticks, ticktext=def_xlabels, minor=dict(tickvals=def_xminor, **minor_common), **axis_common),
    yaxis2=dict(domain=[py(443), py(96)], range=[-3.87e-4, 4.15e-4], anchor="x2", ticklabelstandoff=6,
                tickvals=def_yticks, ticktext=def_ylabels, minor=dict(tickvals=def_yminor, **minor_common), **axis_common),
    shapes=shapes, annotations=ann,
)

fig.write_html("out.html")
